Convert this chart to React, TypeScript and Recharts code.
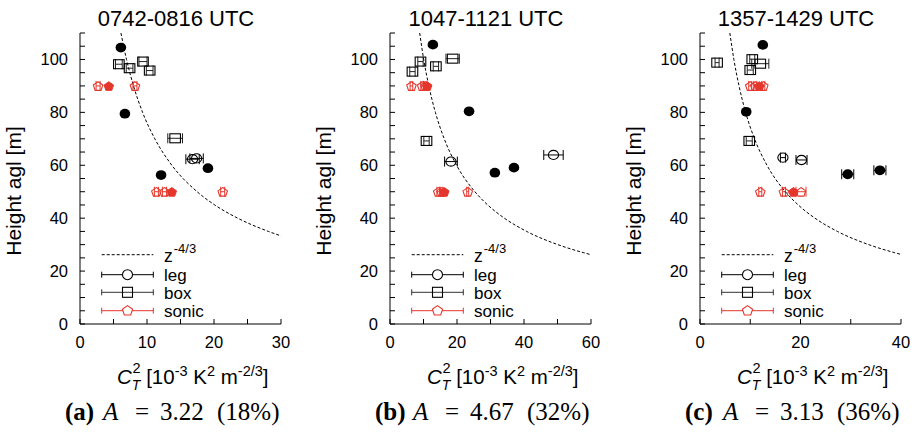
import React from 'react'
import { ScatterChart, Scatter, XAxis, YAxis, ErrorBar, Legend } from 'recharts'

const RED = '#e5362c'
const W = 297
const H = 433

// rows are [C_T^2 (1e-3 K^2 m^-2/3), height (m), x error]
// (a) 0742-0816 UTC
const aRef = [[6.1, 104.5, 0], [6.7, 79.5, 0], [12.1, 56.3, 0], [19.1, 58.9, 0]]
const aLeg = [[16.8, 62.3, 1.0], [17.4, 62.6, 1.0]]
const aBox = [[5.8, 98.2, 0.5], [7.4, 96.7, 0.5], [9.4, 99.2, 0.6], [10.4, 95.8, 0.5], [14.2, 70.2, 1.1]]
const aSonic = [[2.7, 90, 0.3], [8.2, 90, 0.3], [11.4, 50, 0.3], [12.6, 50, 0.3], [21.3, 50, 0.3]]
const aSonicRef = [[4.3, 90, 0], [13.7, 50, 0]]
const aCurveZ = [110, 100, 90, 80, 70, 60, 50, 45, 40, 35, 33.3]
const aCurveX = [6.11, 6.94, 7.99, 9.34, 11.17, 13.71, 17.48, 20.11, 23.54, 28.12, 30.0]

// (b) 1047-1121 UTC
const bRef = [[12.8, 105.6, 0], [23.6, 80.4, 0], [31.3, 57.2, 0], [37.0, 59.1, 0]]
const bLeg = [[18.2, 61.4, 1.9], [48.8, 63.9, 2.9]]
const bBox = [[6.7, 95.4, 0.8], [9.1, 99.2, 0.8], [13.7, 97.4, 0.8], [18.7, 100.3, 2.0], [10.9, 69.2, 0.8]]
const bSonic = [[6.4, 90, 0.4], [9.6, 90, 0.4], [10.6, 90, 0.4], [14.4, 50, 0.4], [15.4, 50, 0.4], [23.2, 50, 0.3]]
const bSonicRef = [[11.1, 90, 0], [16.2, 50, 0]]
const bCurveZ = [110, 100, 90, 80, 70, 60, 50, 45, 40, 35, 30, 27, 26.2]
const bCurveX = [8.86, 10.06, 11.59, 13.55, 16.19, 19.88, 25.35, 29.17, 34.14, 40.79, 50.1, 57.66, 60.0]

// (c) 1357-1429 UTC
const cRef = [[12.5, 105.5, 0], [9.2, 80.2, 0], [29.4, 56.6, 1.2], [35.8, 58.1, 1.2]]
const cLeg = [[16.5, 62.9, 0.5], [20.2, 62.0, 1.1]]
const cBox = [[3.4, 98.8, 0.4], [10.4, 100.1, 0.5], [12.0, 98.4, 1.7], [10.0, 96.0, 0.6], [9.8, 69.2, 0.6]]
const cSonic = [[10.0, 90, 0.3], [11.0, 90, 0.3], [12.6, 90, 0.3], [12.0, 50, 0.3], [16.7, 50, 0.3], [20.1, 50, 1.0]]
const cSonicRef = [[11.8, 90, 0], [18.6, 50, 0]]
const cCurveZ = [110, 100, 90, 80, 70, 60, 50, 45, 40, 35, 30, 27, 26.3]
const cCurveX = [5.94, 6.74, 7.77, 9.08, 10.85, 13.33, 16.99, 19.55, 22.88, 27.34, 33.58, 38.65, 40.0]

const panels = [
  { title: '0742-0816 UTC', tag: '(a)', amp: '3.22', pct: '(18%)', xMax: 30, xStep: 5, labelStep: 10,
    ref: aRef, leg: aLeg, box: aBox, sonic: aSonic, sonicRef: aSonicRef, curveX: aCurveX, curveZ: aCurveZ },
  { title: '1047-1121 UTC', tag: '(b)', amp: '4.67', pct: '(32%)', xMax: 60, xStep: 10, labelStep: 20,
    ref: bRef, leg: bLeg, box: bBox, sonic: bSonic, sonicRef: bSonicRef, curveX: bCurveX, curveZ: bCurveZ },
  { title: '1357-1429 UTC', tag: '(c)', amp: '3.13', pct: '(36%)', xMax: 40, xStep: 10, labelStep: 20,
    ref: cRef, leg: cLeg, box: cBox, sonic: cSonic, sonicRef: cSonicRef, curveX: cCurveX, curveZ: cCurveZ },
]

const yTicks: number[] = []
for (let v = 0; v <= 110; v += 5) yTicks.push(v)

const rows = (r: number[][]) => r.map(([x, y, ex]) => ({ x, y, ex }))
const curve = (xs: number[], zs: number[]) => xs.map((x, i) => ({ x, y: zs[i] }))

const pentagon = (cx: number, cy: number, r: number) =>
  [0, 1, 2, 3, 4]
    .map((i) => {
      const a = (-90 + i * 72) * Math.PI / 180
      return `${cx + r * Math.cos(a)},${cy + 0.95 * r * Math.sin(a) + 0.6}`
    })
    .join(' ')

const dot = (p: any) => <ellipse cx={p.cx} cy={p.cy} rx={5.3} ry={4.9} fill="#000" />
const ring = (p: any) => <ellipse cx={p.cx} cy={p.cy} rx={5.1} ry={4.6} fill="none" stroke="#000" strokeWidth={1.1} />
const square = (p: any) => (
  <rect x={p.cx - 5.3} y={p.cy - 4.5} width={10.6} height={9} fill="none" stroke="#000" strokeWidth={1.1} />
)
const pentOpen = (p: any) => <polygon points={pentagon(p.cx, p.cy, 5)} fill="none" stroke={RED} strokeWidth={1.1} />
const pentFull = (p: any) => <polygon points={pentagon(p.cx, p.cy, 5)} fill={RED} stroke={RED} strokeWidth={1} />
const nothing = () => <g />

const LegendBox = () => (
  <svg width={140} height={80} style={{ display: 'block', overflow: 'visible' }}>
    <line x1={6.7} x2={58.3} y1={9.7} y2={9.7} stroke="#000" strokeWidth={1} strokeDasharray="3 2" />
    <text x={69} y={16.5} fontSize={17.5}>
      z<tspan fontSize={13} dx={1} dy={-9}>-4/3</tspan>
    </text>

    <line x1={6.7} x2={58.3} y1={29.7} y2={29.7} stroke="#000" />
    <line x1={6.7} x2={6.7} y1={26.7} y2={32.7} stroke="#000" />
    <line x1={58.3} x2={58.3} y1={26.7} y2={32.7} stroke="#000" />
    <circle cx={32.5} cy={29.7} r={5} fill="#fff" stroke="#000" strokeWidth={1.1} />
    <text x={69} y={36} fontSize={17}>leg</text>

    <line x1={6.7} x2={58.3} y1={47.3} y2={47.3} stroke="#333" />
    <line x1={6.7} x2={6.7} y1={44.3} y2={50.3} stroke="#333" />
    <line x1={58.3} x2={58.3} y1={44.3} y2={50.3} stroke="#333" />
    <rect x={27.5} y={42.3} width={10} height={10} fill="none" stroke="#000" strokeWidth={1.1} />
    <text x={69} y={53.5} fontSize={17}>box</text>

    <line x1={6.7} x2={58.3} y1={65.7} y2={65.7} stroke={RED} />
    <line x1={6.7} x2={6.7} y1={62.7} y2={68.7} stroke={RED} />
    <line x1={58.3} x2={58.3} y1={62.7} y2={68.7} stroke={RED} />
    <polygon points={pentagon(32.5, 65.2, 5.4)} fill="#fff" stroke={RED} strokeWidth={1.1} />
    <text x={69} y={71.5} fontSize={17}>sonic</text>
  </svg>
)

type PanelDef = (typeof panels)[number]

const Panel = ({ p, left }: { p: PanelDef; left: number }) => {
  const xTicks: number[] = []
  for (let v = 0; v <= p.xMax; v += p.xStep) xTicks.push(v)
  const tickFont = { fill: '#000', fontSize: 16.5 }
  return (
    <div style={{ position: 'absolute', left, top: 0, width: W, height: H }}>
      <ScatterChart width={W} height={H} margin={{ top: 33, right: 16, bottom: 79, left: 0 }}>
        <XAxis xAxisId="b" type="number" dataKey="x" domain={[0, p.xMax]} ticks={xTicks} interval={0}
          allowDataOverflow stroke="#000" height={30} tickSize={-5} tickMargin={17} tick={tickFont}
          tickFormatter={(v: number) => (v % p.labelStep === 0 ? String(v) : '')} />
        <XAxis xAxisId="t" orientation="top" type="number" dataKey="x" domain={[0, p.xMax]} ticks={xTicks}
          interval={0} allowDataOverflow stroke="#000" height={0} tickSize={-5} tick={false} />
        <YAxis yAxisId="l" type="number" dataKey="y" domain={[0, 110]} ticks={yTicks} interval={0}
          allowDataOverflow stroke="#000" width={80} tickSize={-5} tickMargin={17} tick={tickFont}
          tickFormatter={(v: number) => (v % 20 === 0 && v <= 100 ? String(v) : '')} />
        <YAxis yAxisId="r" orientation="right" type="number" dataKey="y" domain={[0, 110]} ticks={yTicks}
          interval={0} allowDataOverflow stroke="#000" width={0} tickSize={-5} tick={false} />

        <Scatter name="z-4/3" xAxisId="b" yAxisId="l" data={curve(p.curveX, p.curveZ)} shape={nothing}
          line={{ stroke: '#000', strokeWidth: 1, strokeDasharray: '3 2' }} lineJointType="monotoneX"
          isAnimationActive={false} />
        <Scatter name="ref" xAxisId="b" yAxisId="l" data={rows(p.ref)} shape={dot} isAnimationActive={false}>
          <ErrorBar dataKey="ex" direction="x" width={5} stroke="#000" strokeWidth={1} />
        </Scatter>
        <Scatter name="leg" xAxisId="b" yAxisId="l" data={rows(p.leg)} shape={ring} isAnimationActive={false}>
          <ErrorBar dataKey="ex" direction="x" width={5} stroke="#000" strokeWidth={1} />
        </Scatter>
        <Scatter name="box" xAxisId="b" yAxisId="l" data={rows(p.box)} shape={square} isAnimationActive={false}>
          <ErrorBar dataKey="ex" direction="x" width={5} stroke="#222" strokeWidth={1} />
        </Scatter>
        <Scatter name="sonic" xAxisId="b" yAxisId="l" data={rows(p.sonic)} shape={pentOpen} isAnimationActive={false}>
          <ErrorBar dataKey="ex" direction="x" width={5} stroke={RED} strokeWidth={1} />
        </Scatter>
        <Scatter name="sonic ref" xAxisId="b" yAxisId="l" data={rows(p.sonicRef)} shape={pentFull}
          isAnimationActive={false} />

        <Legend layout="vertical" align="center" verticalAlign="middle" content={() => <LegendBox />}
          wrapperStyle={{ left: 95, top: 245, width: 140, height: 80 }} />
      </ScatterChart>

      <svg width={W} height={H} style={{ position: 'absolute', left: 0, top: 0, pointerEvents: 'none' }}>
        <text x={176} y={26} fontSize={22} textAnchor="middle">{p.title}</text>
        <text transform="translate(21,191) rotate(-90)" fontSize={21} textAnchor="middle">Height agl [m]</text>
        <text x={117} y={384} fontSize={20.5}>
          <tspan fontStyle="italic">C</tspan>
          <tspan fontStyle="italic" fontSize={14} dy={6}>T</tspan>
          <tspan fontSize={14.5} dx={-8} dy={-17}>2</tspan>
          <tspan dy={11}> [10</tspan>
          <tspan fontSize={14.5} dy={-8}>-3</tspan>
          <tspan dy={8}> K</tspan>
          <tspan fontSize={14.5} dy={-8}>2</tspan>
          <tspan dy={8}> m</tspan>
          <tspan fontSize={14.5} dy={-8}>-2/3</tspan>
          <tspan dy={8}>]</tspan>
        </text>
        <text y={420} fontSize={25} fontFamily="'Liberation Serif', serif">
          <tspan x={65} fontWeight="bold">{p.tag}</tspan>
          <tspan x={103} fontStyle="italic">A</tspan>
          <tspan x={135}>=</tspan>
          <tspan x={160}>{p.amp}</tspan>
          <tspan x={217}>{p.pct}</tspan>
        </text>
      </svg>
    </div>
  )
}

export default function App() {
  return (
    <div
      style={{
        position: 'absolute', left: 0, top: 0, width: 917, height: 433, background: '#fff', overflow: 'hidden',
        fontFamily: "'Liberation Sans', Arial, sans-serif", color: '#000',
      }}
    >
      {panels.map((p, i) => (
        <Panel key={p.title} p={p} left={i * 310} />
      ))}
    </div>
  )
}
